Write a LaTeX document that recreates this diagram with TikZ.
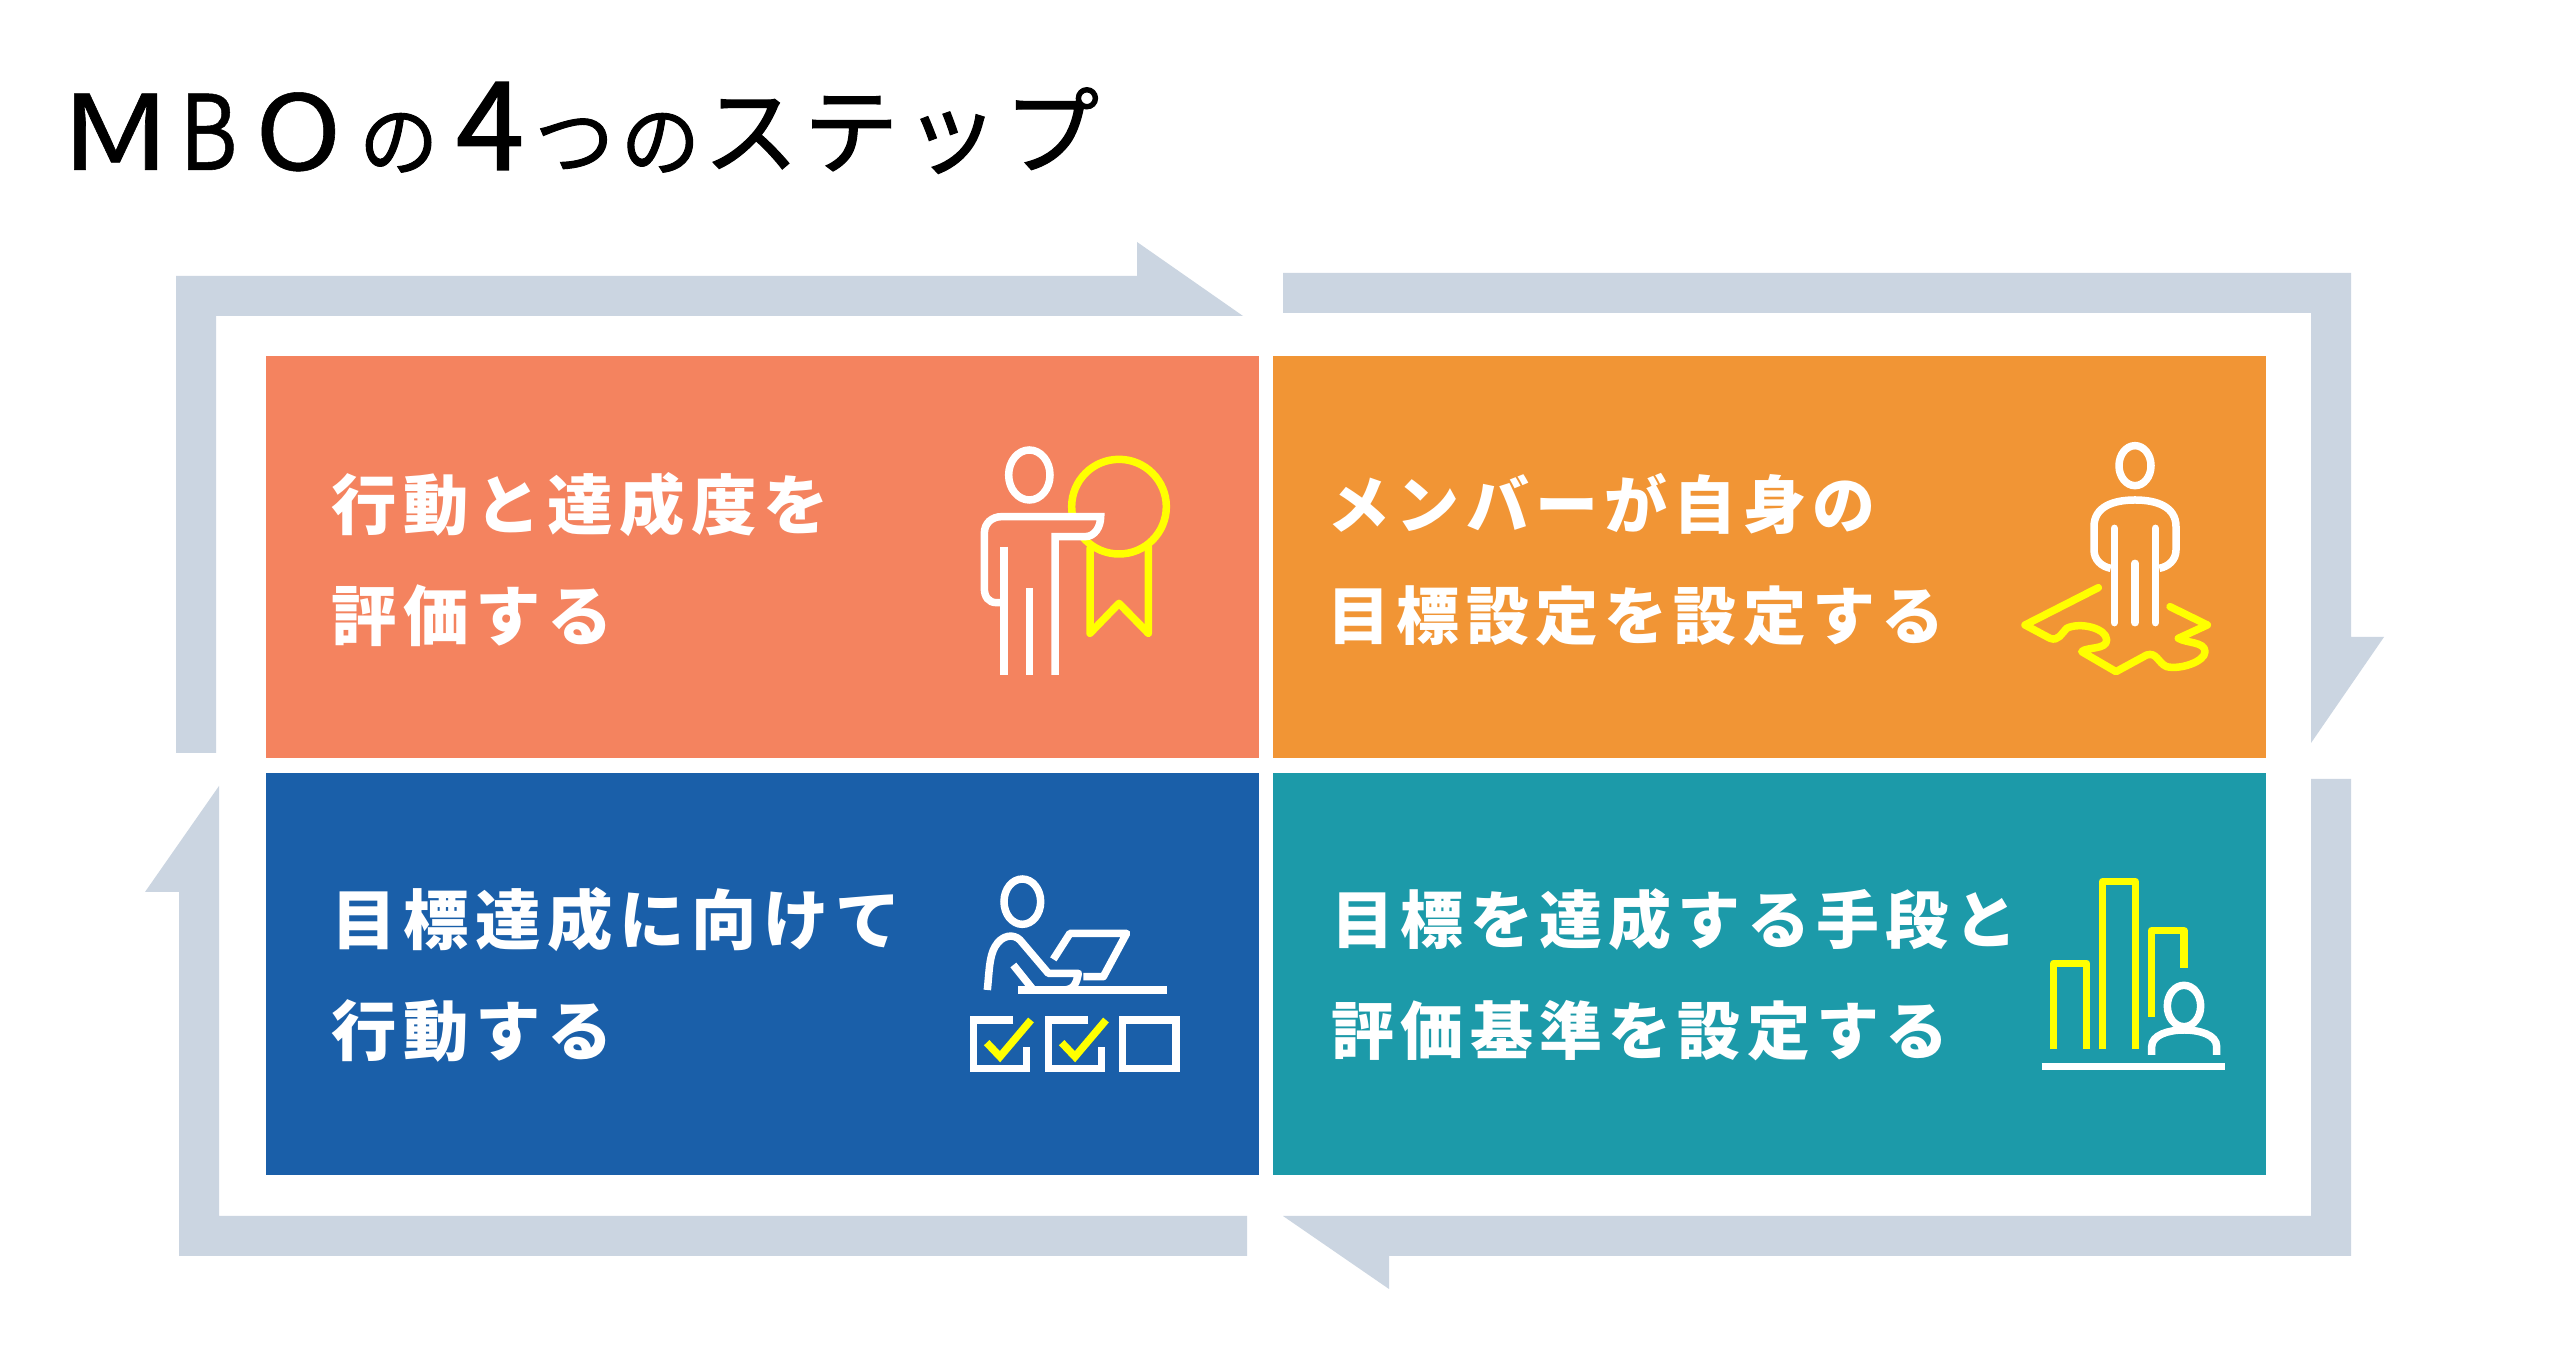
\documentclass[tikz,border=0pt]{standalone}
\usepackage{fontspec}
\usepackage{xcolor}
\newfontfamily\jpfont[FakeBold=0.5]{Noto Sans CJK JP}
\newfontfamily\jpheavy[FakeBold=1.2]{Noto Sans CJK JP}
\newfontfamily\jpspaced[LetterSpace=10]{Noto Sans CJK JP}

\definecolor{loopgray}{HTML}{CBD5E1}
\definecolor{cardcoral}{HTML}{F4835F}
\definecolor{cardorange}{HTML}{F19535}
\definecolor{cardblue}{HTML}{1A5FA9}
\definecolor{cardteal}{HTML}{1C9AA9}
\definecolor{markyellow}{HTML}{FFFF00}

\tikzset{
  cardbox/.style={minimum width=9.92cm,minimum height=4.02cm,inner sep=0pt,outer sep=0pt,anchor=north west},
  cardtext/.style={white,anchor=west,align=left,inner sep=0pt,font=\jpspaced\bfseries\fontsize{#1}{31.6}\selectfont},
  iconline/.style={white,line width=0.075cm},
  iconmark/.style={markyellow,line width=0.075cm}
}

\begin{document}
\begin{tikzpicture}[x=0.01cm,y=-0.01cm]
\useasboundingbox (0,0) rectangle (2560,1371);
\fill[white] (0,0) rectangle (2560,1371);

\node[anchor=base west,inner sep=0pt] (title) at (60,170) {\jpfont
  {\fontsize{29.6}{30}\selectfont \scalebox{1.3}[1]{M}\hspace{2.5pt}\scalebox{0.85}[1]{B}\hspace{5pt}\scalebox{1.12}[1]{O}}\hspace{5pt}%
  {\jpheavy\fontsize{22.5}{20}\selectfont の}\hspace{5pt}%
  {\jpheavy\fontsize{35}{30}\selectfont 4}\hspace{3pt}%
  {\jpheavy\fontsize{22.5}{20}\selectfont つ\hspace{2pt}の}\hspace{1pt}%
  {\jpheavy\fontsize{27}{20}\selectfont \raisebox{1pt}{ス\hspace{1.5pt}テ\hspace{1.5pt}ッ\hspace{1.5pt}プ}}};

% arrows around the cards
\fill[loopgray] (176,753) -- (216,753) -- (216,316) -- (1243,316) -- (1137,242) -- (1137,276) -- (176,276) -- cycle;
\fill[loopgray] (1283,273) -- (2351,273) -- (2351,637) -- (2384,637) -- (2311,743) -- (2311,313) -- (1283,313) -- cycle;
\fill[loopgray] (2311,779) -- (2351,779) -- (2351,1256) -- (1389,1256) -- (1389,1289) -- (1283,1216) -- (2311,1216) -- cycle;
\fill[loopgray] (1247,1216) -- (1247,1256) -- (179,1256) -- (179,892) -- (145,892) -- (219,786) -- (219,1216) -- cycle;

% cards
\node[cardbox,fill=cardcoral] (evaluate) at (266,356) {};
\node[cardbox,fill=cardorange] (goal) at (1273,356) {};
\node[cardbox,fill=cardblue] (action) at (266,773) {};
\node[cardbox,fill=cardteal] (means) at (1273,773) {};

\node[cardtext=18.6] (evaluatetext) at (331,560) {行動と達成度を\\評価する};
\node[cardtext=17.9] (goaltext) at (1327,560) {メンバーが自身の\\目標設定を設定する};
\node[cardtext=18.6] (actiontext) at (331,975) {目標達成に向けて\\行動する};
\node[cardtext=17.9] (meanstext) at (1331,975) {目標を達成する手段と\\評価基準を設定する};

% medal icon
\begin{scope}[shift={(940,420)},scale=1/3]
\draw[iconmark] (537,260) circle (142);
\draw[iconmark,line join=round,line cap=round] (450,385) -- (450,640) -- (537,550) -- (625,640) -- (625,380);
\draw[iconline] (268,165) ellipse (62 and 75);
\fill[cardcoral] (185,290) -- (482,290) .. controls (482,320) and (465,350) .. (435,350) -- (185,350) -- cycle;
\draw[iconline] (185,548) -- (170,548) .. controls (145,548) and (133,530) .. (133,505) -- (133,340) .. controls (133,310) and (155,290) .. (185,290) -- (482,290) .. controls (482,320) and (465,350) .. (435,350) -- (345,350) -- (345,765);
\draw[iconline] (192,380) -- (192,765);
\draw[iconline] (268,505) -- (268,765);
\end{scope}

% person on map icon
\begin{scope}[shift={(1990,420)},scale=1/3]
\draw[iconline] (435,137) ellipse (48 and 60);
\draw[iconline] (362,445) .. controls (335,440) and (312,420) .. (312,390) -- (312,320) .. controls (312,260) and (370,240) .. (435,240) .. controls (500,240) and (558,260) .. (558,320) -- (558,390) .. controls (558,420) and (535,440) .. (508,445);
\draw[iconline,line cap=round] (373,325) -- (373,608);
\draw[iconline,line cap=round] (496,325) -- (496,608);
\draw[iconline,line cap=round] (435,430) -- (435,608);
\draw[iconmark,line cap=round,line join=round] (325,503) -- (105,615) -- (180,655) .. controls (205,665) and (215,640) .. (230,625) .. controls (270,605) and (350,625) .. (350,660) .. controls (350,690) and (290,680) .. (275,695) -- (378,755) -- (470,705) .. controls (500,695) and (505,730) .. (530,740) .. controls (570,750) and (645,725) .. (645,695) .. controls (645,665) and (590,670) .. (565,655) -- (652,615) -- (540,560);
\end{scope}

% desk and checklist icon
\begin{scope}[shift={(950,860)},scale=1/3]
\draw[iconline] (217,125) ellipse (55 and 68);
\draw[iconline,line join=round] (112,390) .. controls (118,330) and (118,290) .. (135,260) .. controls (155,225) and (190,220) .. (210,240) -- (295,340) -- (385,340) .. controls (380,365) and (375,390) .. (340,390);
\draw[iconline] (190,315) -- (250,390);
\draw[iconline] (205,390) -- (652,390);
\draw[iconline,line join=round] (310,298) -- (360,220) -- (530,220) -- (460,350) -- (400,350);
\foreach \x in {0,225} {
  \draw[iconline] (190+\x,480) -- (70+\x,480) -- (70+\x,625) -- (230+\x,625) -- (230+\x,560);
  \draw[iconmark] (110+\x,548) -- (150+\x,590) -- (243+\x,480);
}
\draw[iconline] (518,480) rectangle (678,625);
\end{scope}

% bar chart icon
\begin{scope}[shift={(2020,860)},scale=1/3]
\draw[iconmark,line join=round] (101,568) -- (101,310) -- (200,310) -- (200,568);
\draw[iconmark,line join=round] (248,568) -- (248,65) -- (346,65) -- (346,568);
\draw[iconmark,line join=round] (395,470) -- (395,212) -- (492,212) -- (492,323);
\draw[iconline] (492,438) ellipse (50 and 62);
\draw[iconline] (395,585) -- (395,560) .. controls (395,525) and (445,510) .. (492,510) .. controls (540,510) and (590,525) .. (590,560) -- (590,585);
\draw[iconline] (65,620) -- (615,620);
\end{scope}
\end{tikzpicture}
\end{document}
